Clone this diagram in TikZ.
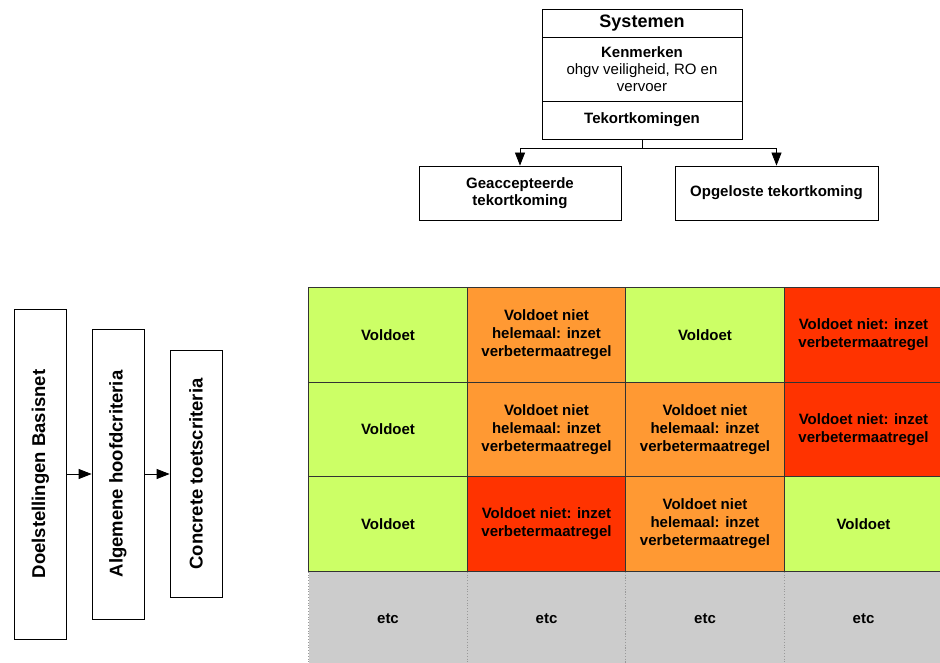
\documentclass[tikz,border=0pt]{standalone}
\usepackage{fontspec}
\setmainfont{Liberation Sans}
\usetikzlibrary{arrows.meta}

\definecolor{okgreen}{HTML}{CCFF66}
\definecolor{halforange}{HTML}{FF9933}
\definecolor{badred}{HTML}{FF3300}
\definecolor{etcgray}{HTML}{CCCCCC}

\tikzset{
  box/.style={draw, line width=0.8pt, inner sep=0pt, align=center,
    font=\fontsize{15}{17}\selectfont\bfseries},
  vbox/.style={box, rotate=90, minimum height=52,
    font=\fontsize{18.5}{20}\selectfont\bfseries},
  cell/.style={draw=black!80, line width=0.8pt, minimum width=158.5,
    minimum height=94.5, inner sep=0pt, align=center,
    font=\fontsize{15}{18}\selectfont\bfseries},
  okcell/.style={cell, fill=okgreen},
  halfcell/.style={cell, fill=halforange},
  badcell/.style={cell, fill=badred},
  etccell/.style={cell, fill=etcgray, draw=black!40, dotted},
  arr/.style={-{Triangle[length=13pt,width=10pt]}, line width=0.8pt},
}

\newcommand{\half}{Voldoet niet\\helemaal: inzet\\verbetermaatregel}
\newcommand{\bad}{Voldoet niet: inzet\\verbetermaatregel}

\begin{document}
\begin{tikzpicture}[x=1pt,y=-1pt]
\useasboundingbox (0,0) rectangle (940,663);
\clip (0,0) rectangle (940,663);

% systemen
\node[box, minimum width=200, minimum height=28, font=\fontsize{18}{20}\selectfont\bfseries] (sys) at (642,23) {Systemen};
\node[box, minimum width=200, minimum height=64, font=\fontsize{15}{17}\selectfont] (kenm) at (642,69) {\textbf{Kenmerken}\\ohgv veiligheid, RO en\\vervoer};
\node[box, minimum width=200, minimum height=38] (tekort) at (642,120) {Tekortkomingen};

\node[box, minimum width=202, minimum height=54] (geacc) at (520,193) {Geaccepteerde\\tekortkoming};
\node[box, minimum width=203, minimum height=54] (opgel) at (776.5,193) {Opgeloste tekortkoming};

\coordinate (split) at (642,148);
\draw[line width=0.8pt] (tekort.south) -- (split);
\draw[arr] (split) -| (geacc.north);
\draw[arr] (split) -| (opgel.north);

% criteria
\node[vbox, minimum width=330] (doel) at (40.5,474) {Doelstellingen Basisnet};
\node[vbox, minimum width=290] (alg) at (118,474) {Algemene hoofdcriteria};
\node[vbox, minimum width=247] (concr) at (196,474) {Concrete toetscriteria};

\draw[arr] (doel) -- (alg);
\draw[arr] (alg) -- (concr);

% toetstabel
\node[etccell] (r4c1) at (388,619) {etc};
\node[etccell] (r4c2) at (546.5,619) {etc};
\node[etccell] (r4c3) at (705,619) {etc};
\node[etccell] (r4c4) at (863.5,619) {etc};

\node[okcell] (r1c1) at (388,335) {Voldoet};
\node[halfcell] (r1c2) at (546.5,335) {\half};
\node[okcell] (r1c3) at (705,335) {Voldoet};
\node[badcell] (r1c4) at (863.5,335) {\bad};

\node[okcell] (r2c1) at (388,429.5) {Voldoet};
\node[halfcell] (r2c2) at (546.5,429.5) {\half};
\node[halfcell] (r2c3) at (705,429.5) {\half};
\node[badcell] (r2c4) at (863.5,429.5) {\bad};

\node[okcell] (r3c1) at (388,524) {Voldoet};
\node[badcell] (r3c2) at (546.5,524) {\bad};
\node[halfcell] (r3c3) at (705,524) {\half};
\node[okcell] (r3c4) at (863.5,524) {Voldoet};
\end{tikzpicture}
\end{document}
